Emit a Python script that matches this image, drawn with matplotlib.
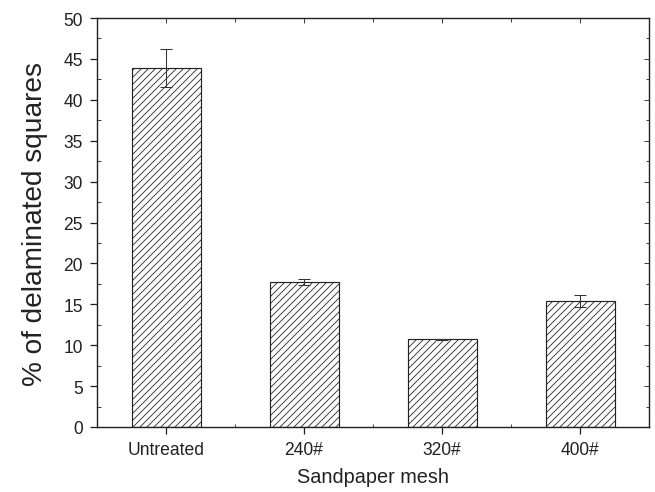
import matplotlib
matplotlib.use("Agg")
import matplotlib.pyplot as plt
from matplotlib.ticker import MultipleLocator, FixedLocator

categories = ["Untreated", "240#", "320#", "400#"]
values = [43.9, 17.7, 10.7, 15.4]
errors = [2.3, 0.35, 0.1, 0.7]

DPI = 84
plt.rcParams['font.family'] = ['Liberation Sans', 'DejaVu Sans']
plt.rcParams['hatch.color'] = '#666666'
plt.rcParams['hatch.linewidth'] = 0.7

fig = plt.figure(figsize=(655 / DPI, 493 / DPI), dpi=DPI)
ax = fig.add_axes([97 / 655, 1 - 428 / 493, (649 - 97) / 655, (428 - 19) / 493])

pos = list(range(1, len(categories) + 1))
ax.bar(pos, values, width=0.5, color='white', edgecolor='#222222', linewidth=1.0,
       hatch='////', zorder=2)
ax.errorbar(pos, values, yerr=errors, fmt='none', ecolor='#333333', elinewidth=0.9,
            capsize=5, capthick=0.9, zorder=3)

ax.set_xlim(0.5, 4.5)
ax.set_ylim(0, 50)
ax.set_xticks(pos)
ax.set_xticklabels(categories)
ax.xaxis.set_minor_locator(FixedLocator([1.5, 2.5, 3.5]))
ax.yaxis.set_major_locator(MultipleLocator(5))
ax.yaxis.set_minor_locator(MultipleLocator(2.5))

for s in ax.spines.values():
    s.set_linewidth(1.2)
    s.set_color('#222222')

ax.tick_params(which='major', direction='out', length=6, width=1.1, color='#222222',
               labelsize=15, labelcolor='#222222', pad=6)
ax.tick_params(which='minor', direction='in', length=3, width=0.9, color='#444444')
ax.tick_params(which='both', top=False, right=False)

# top and right ticks (inward)
axt = ax.secondary_xaxis('top')
axt.set_xticks(pos)
axt.xaxis.set_minor_locator(FixedLocator([1.5, 2.5, 3.5]))
axt.tick_params(which='both', direction='in', labeltop=False, color='#444444', width=0.9)
axt.tick_params(which='major', length=4)
axt.tick_params(which='minor', length=3)
axt.spines['top'].set_visible(False)
axr = ax.secondary_yaxis('right')
axr.yaxis.set_major_locator(MultipleLocator(5))
axr.yaxis.set_minor_locator(MultipleLocator(2.5))
axr.tick_params(which='both', direction='in', labelright=False, color='#444444', width=0.9)
axr.tick_params(which='major', length=4)
axr.tick_params(which='minor', length=3)
axr.spines['right'].set_visible(False)

ax.set_xlabel("Sandpaper mesh", fontsize=17, color='#222222', labelpad=8)
ax.set_ylabel("% of delaminated squares", fontsize=24, color='#222222', labelpad=13)

fig.savefig("out.png", dpi=DPI)
